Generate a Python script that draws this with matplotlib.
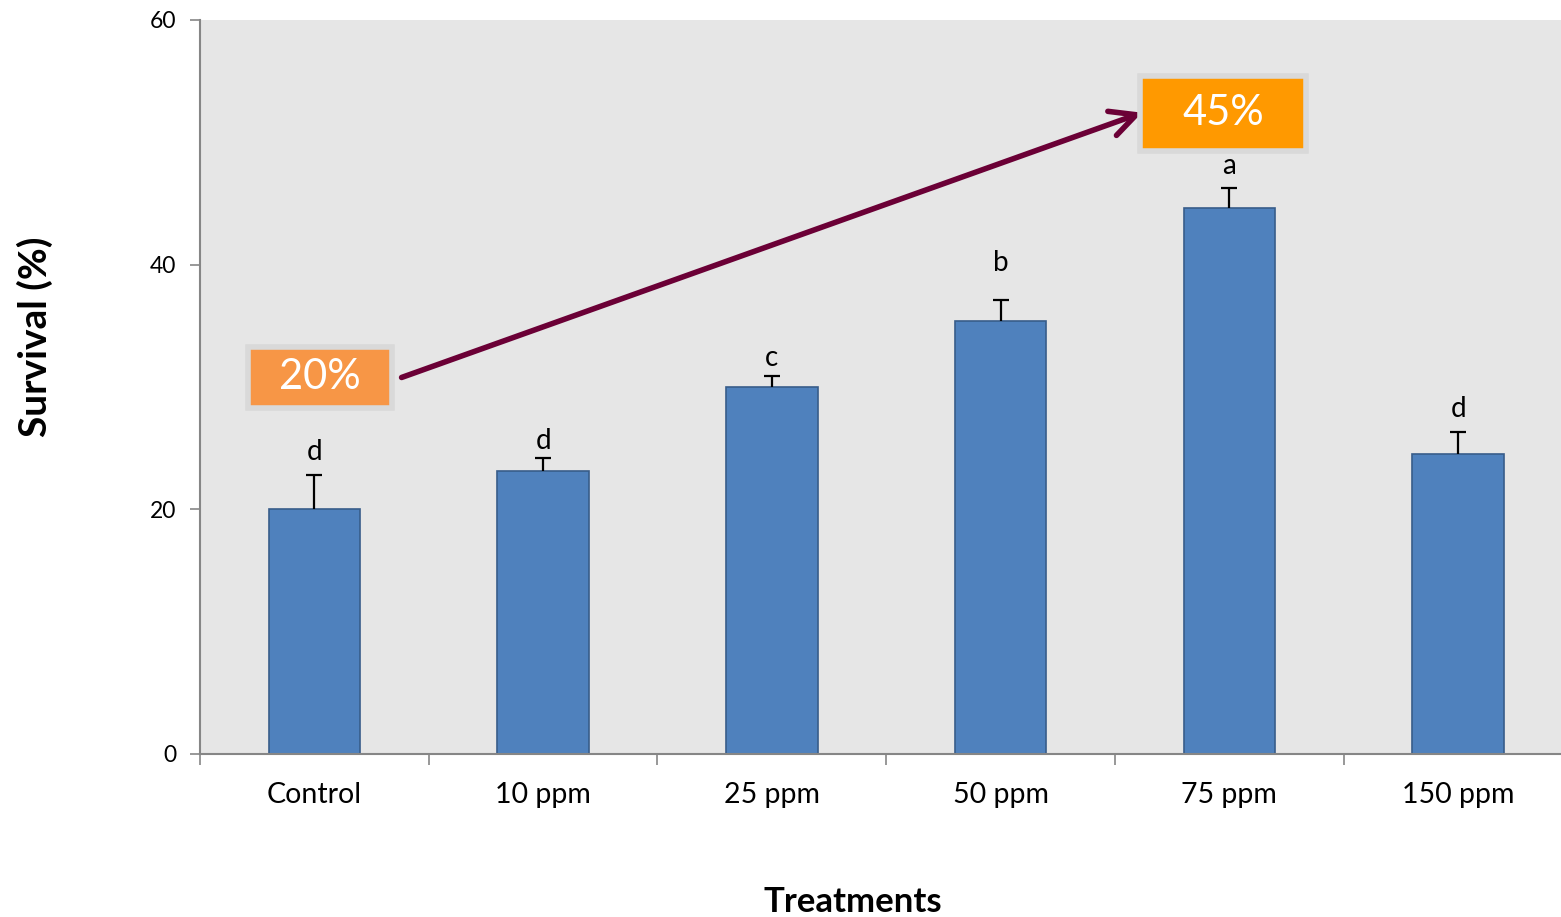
import numpy as np
import matplotlib.pyplot as plt
from matplotlib.patches import Rectangle

plt.rcParams['font.family'] = ['Lato', 'DejaVu Sans']

treatments = ['Control', '10 ppm', '25 ppm', '50 ppm', '75 ppm', '150 ppm']
survival = [20.0, 23.1, 30.0, 35.4, 44.6, 24.5]
errors = [2.8, 1.1, 0.9, 1.7, 1.7, 1.8]
letters = ['d', 'd', 'c', 'b', 'a', 'd']
letter_y = [24.7, 25.6, 32.4, 40.1, 48.1, 28.2]

fig = plt.figure(figsize=(15.61, 9.17), dpi=100)
ax = fig.add_axes([0.1281, 0.1778, 0.8719, 0.8004])
ax.set_facecolor('#E6E6E6')

x = np.arange(len(treatments))
ax.bar(x, survival, width=0.40, color='#4F81BD', edgecolor='#385D8A', linewidth=1.2, zorder=2)
eb = ax.errorbar(x, survival, yerr=[np.zeros(len(errors)), errors], fmt='none',
                 ecolor='black', elinewidth=1.6, capsize=6, capthick=1.6, zorder=3)
eb[1][0].set_visible(False)  # only the upper cap

for xi, ly, l in zip(x, letter_y, letters):
    ax.text(xi, ly, l, ha='center', va='center', fontsize=20, color='black')

ax.set_xlim(-0.5, 5.45)
ax.set_ylim(0, 60)
ax.set_yticks([0, 20, 40, 60])
ax.tick_params(axis='y', labelsize=16.5, direction='out', length=7, width=1.2, color='#868686', pad=10)
ax.set_xticks(x)
ax.set_xticklabels(treatments)
ax.set_xticks(np.arange(-0.5, 5.5, 1), minor=True)
ax.tick_params(axis='x', which='major', length=0, labelsize=20.5, pad=20)
ax.tick_params(axis='x', which='minor', direction='out', length=8, width=1.2, color='#868686')

for s in ['top', 'right']:
    ax.spines[s].set_visible(False)
for s in ['left', 'bottom']:
    ax.spines[s].set_color('#868686')
    ax.spines[s].set_linewidth(1.5)

# arrow and callout boxes
ax.annotate('', xy=(3.63, 52.5), xytext=(0.37, 30.7),
            arrowprops=dict(arrowstyle='->', color='#6B0036', lw=4, mutation_scale=46), zorder=4)
ax.add_patch(Rectangle((-0.292, 28.32), 0.630, 4.91, facecolor='#F79646', edgecolor='#D9D9D9',
                       linewidth=4, zorder=5))
ax.text(0.023, 30.8, '20%', ha='center', va='center', fontsize=30, color='white', zorder=6)
ax.add_patch(Rectangle((3.610, 49.33), 0.724, 6.09, facecolor='#FF9900', edgecolor='#D9D9D9',
                       linewidth=4, zorder=5))
ax.text(3.972, 52.4, '45%', ha='center', va='center', fontsize=30, color='white', zorder=6)

fig.text(35 / 1561, 1 - 337 / 917, 'Survival (%)', rotation=90, ha='center', va='center',
         fontsize=28, fontweight='bold')
fig.text(853 / 1561, 1 - 902 / 917, 'Treatments', ha='center', va='center',
         fontsize=25, fontweight='bold')

fig.savefig('out.png', dpi=100)
